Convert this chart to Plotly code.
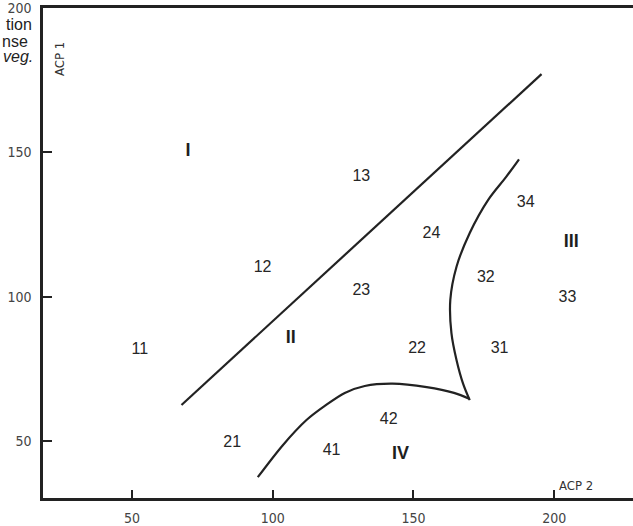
import plotly.graph_objects as go

# --- data ---
line_x = [67.6, 195.5]
line_y = [62.5, 177.1]

curve_a_x = [187.5, 183.0, 176.5, 170.0, 165.3, 163.1, 163.5, 165.3, 167.6, 170.0]
curve_a_y = [147.6, 141.6, 133.5, 122.1, 110.4, 98.9, 87.4, 78.1, 70.0, 64.2]

curve_b_x = [170.0, 164.4, 154.7, 142.6, 132.7, 125.6, 118.5, 112.0, 103.6, 94.7]
curve_b_y = [64.6, 66.7, 68.7, 69.9, 69.1, 66.7, 62.2, 57.3, 48.6, 37.5]

num_labels = ["11", "12", "13", "21", "22", "23", "24", "31", "32", "33", "34", "41", "42"]
num_x = [52.8, 96.4, 131.5, 85.6, 151.3, 131.5, 156.4, 180.6, 175.7, 204.7, 189.9, 120.9, 141.2]
num_y = [81.5, 110.0, 141.3, 49.2, 82.0, 102.0, 121.7, 82.0, 106.4, 99.4, 132.3, 46.7, 57.3]

zone_labels = ["I", "II", "III", "IV"]
zone_x = [69.9, 106.4, 206.1, 145.4]
zone_y = [150.2, 85.6, 118.8, 45.2]

tick_vals = [50, 100, 150, 200]
tick_text = ["50", "100", "150", "200"]

x_range = [18.4, 228.0]
y_range = [30.3, 200.0]

W, H = 633, 526
ML, MR, MT, MB = 43, 0, 8, 28

ink = "#222222"
fig = go.Figure()

fig.add_trace(go.Scatter(x=line_x, y=line_y, mode="lines", line=dict(color=ink, width=2.2),
                         hoverinfo="skip", showlegend=False))
fig.add_trace(go.Scatter(x=curve_a_x, y=curve_a_y, mode="lines",
                         line=dict(color=ink, width=2.2, shape="spline", smoothing=1.0),
                         hoverinfo="skip", showlegend=False))
fig.add_trace(go.Scatter(x=curve_b_x, y=curve_b_y, mode="lines",
                         line=dict(color=ink, width=2.2, shape="spline", smoothing=0.9),
                         hoverinfo="skip", showlegend=False))

fig.add_trace(go.Scatter(x=num_x, y=num_y, mode="text", text=num_labels,
                         textfont=dict(family="Liberation Sans, Arial, sans-serif", size=16, color="#262626"),
                         textposition="middle center", hoverinfo="skip", showlegend=False,
                         cliponaxis=False))
fig.add_trace(go.Scatter(x=zone_x, y=zone_y, mode="text", text=[f"<b>{t}</b>" for t in zone_labels],
                         textfont=dict(family="Liberation Sans, Arial, sans-serif", size=18, color="#1e1e1e"),
                         textposition="middle center", hoverinfo="skip", showlegend=False,
                         cliponaxis=False))

pw = W - ML - MR
ph = H - MT - MB
def px(xp):
    return (xp - ML) / pw
def py(yp):
    return 1 - (yp - MT) / ph

small_font = dict(family="Liberation Sans Narrow, DejaVu Sans Condensed, sans-serif", size=13, color="#333")
ann = []
ann.append(dict(x=px(59), y=py(59), xref="paper", yref="paper", text="ACP 1", textangle=-90,
                xanchor="center", yanchor="middle", showarrow=False, font=small_font))
ann.append(dict(x=px(576), y=py(485), xref="paper", yref="paper", text="ACP 2",
                xanchor="center", yanchor="middle", showarrow=False, font=small_font))
rem_font = dict(family="Liberation Sans, Arial, sans-serif", size=16, color="#222")
ann.append(dict(x=px(33), y=py(25), xref="paper", yref="paper", text="tion", xanchor="right",
                yanchor="middle", showarrow=False, font=rem_font, borderpad=0))
ann.append(dict(x=px(29), y=py(41), xref="paper", yref="paper", text="nse", xanchor="right",
                yanchor="middle", showarrow=False, font=rem_font, borderpad=0))
ann.append(dict(x=px(34), y=py(57), xref="paper", yref="paper", text="<i>veg.</i>", xanchor="right",
                yanchor="middle", showarrow=False, font=rem_font, borderpad=0))

tick_font = dict(family="Liberation Sans Narrow, DejaVu Sans Condensed, sans-serif", size=14, color="#444")
fig.update_layout(
    width=W, height=H,
    margin=dict(l=ML, r=MR, t=MT, b=MB, pad=0, autoexpand=False),
    paper_bgcolor="white", plot_bgcolor="white",
    annotations=ann,
    xaxis=dict(range=x_range, automargin=False, showgrid=False, zeroline=False, showline=True,
               linecolor=ink, linewidth=2.5, mirror=True, ticks="inside", ticklen=8, tickwidth=2,
               tickcolor=ink, tickvals=tick_vals, ticktext=tick_text, tickfont=tick_font,
               ticklabelstandoff=5, ticklabeloverflow="allow"),
    yaxis=dict(range=y_range, automargin=False, showgrid=False, zeroline=False, showline=True,
               linecolor=ink, linewidth=2.5, ticks="inside", ticklen=9, tickwidth=2, tickcolor=ink,
               tickvals=tick_vals, ticktext=tick_text, tickfont=tick_font, ticklabelstandoff=6,
               ticklabeloverflow="allow"),
)

fig.write_html("out.html", config={"displayModeBar": False},
               post_script="document.body.style.margin='0';document.body.style.overflow='hidden';")
